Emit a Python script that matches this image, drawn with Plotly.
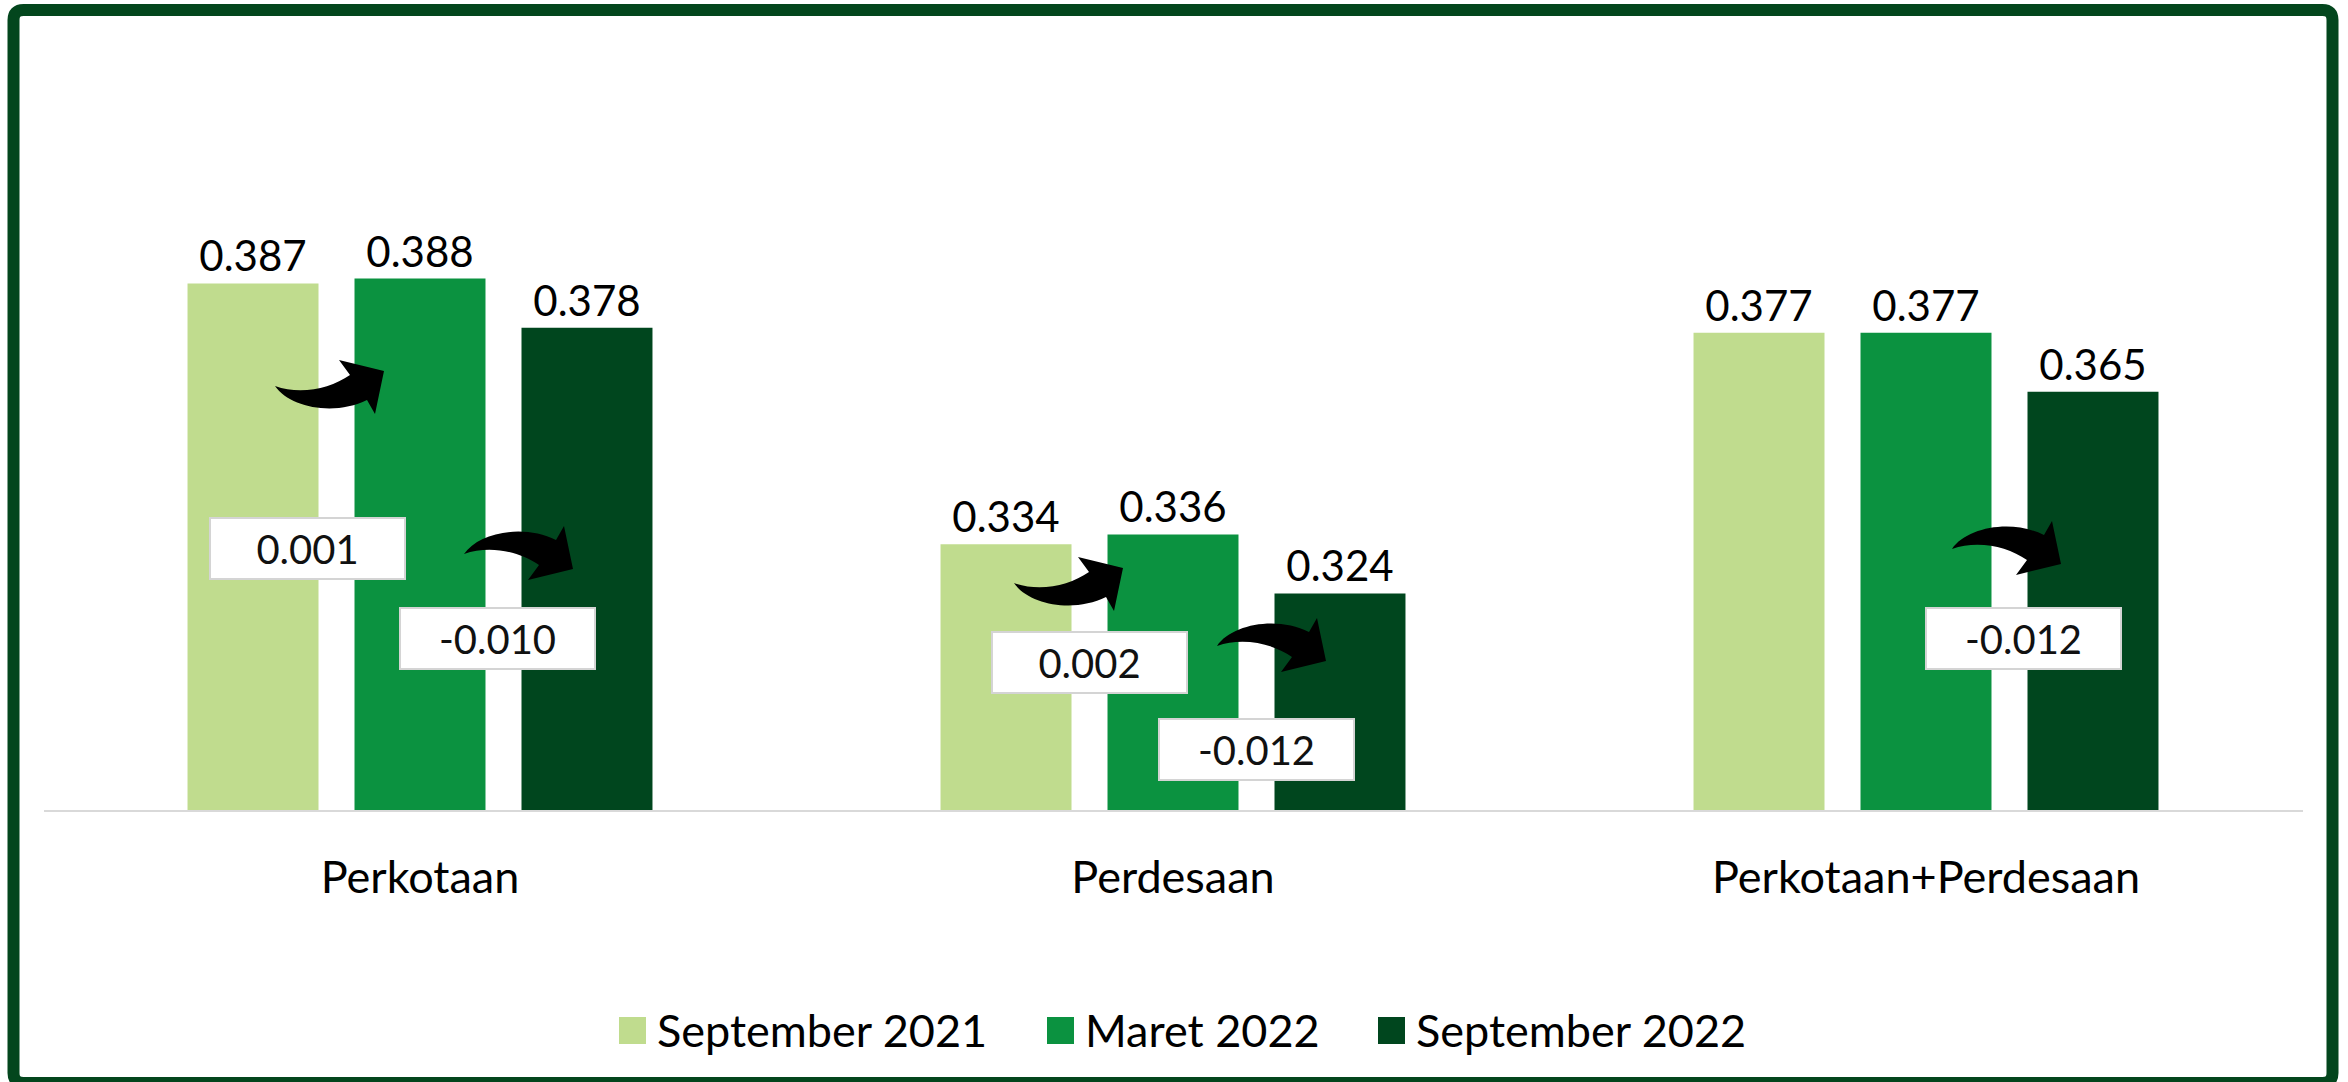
import plotly.graph_objects as go

# ---- data ----
categories = ["Perkotaan", "Perdesaan", "Perkotaan+Perdesaan"]
series_names = ["September 2021", "Maret 2022", "September 2022"]
sep_2021 = [0.387, 0.334, 0.377]
mar_2022 = [0.388, 0.336, 0.377]
sep_2022 = [0.378, 0.324, 0.365]
series_values = [sep_2021, mar_2022, sep_2022]
series_colors = ["#C0DC8E", "#0B9240", "#00461E"]

FONT = "Lato, Carlito, Calibri, sans-serif"
W, H = 2348, 1082
Y_MIN, Y_MAX = 0.28, 0.41


def fx(px):
    return px / W


def fy(py):
    return 1 - py / H


fig = go.Figure()
for name, vals, col in zip(series_names, series_values, series_colors):
    fig.add_trace(go.Bar(
        x=categories, y=vals, name=name, marker=dict(color=col, line=dict(width=0)),
        texttemplate="%{y:.3f}", textposition="outside", cliponaxis=False,
        constraintext="none",
        textfont=dict(family=FONT, size=42, color="#000000"),
        showlegend=False, hoverinfo="skip",
    ))

shapes = []
annotations = []

# curved block arrow outline (tail at origin, screen y pointing down), pixels
ARROW_DOWN = [("M", (0, 0)), ("C", (15, -22), (60, -30), (92, -14)),
              ("L", (100, -28)), ("L", (109, 15)), ("L", (64, 26)),
              ("L", (75, 11)), ("C", (55, -3), (25, -9), (0, 0))]


def arrow_path(dx, h, up):
    parts = []
    for seg in ARROW_DOWN:
        cmd, pts = seg[0], seg[1:]
        coords = []
        for (px, py) in pts:
            sy = py if not up else -py
            coords.append(f"{dx + px:.1f},{h - sy:.1f}")
        parts.append(cmd + " ".join(coords))
    return " ".join(parts) + " Z"


# placement of change markers: (category index, from series, to series,
# arrow tail offset, label box offset) in pixels from category centre / baseline
change_marks = [
    (0, 0, 1, (-145, 424), (-113, 262)),
    (0, 1, 2, (44, 256), (77, 172)),
    (1, 0, 1, (-159, 227), (-84, 148)),
    (1, 1, 2, (44, 164), (83, 61)),
    (2, 1, 2, (26, 261), (97, 172)),
]
for ci, s0, s1, (adx, ah), (bdx, bh) in change_marks:
    delta = round(series_values[s1][ci] - series_values[s0][ci], 3)
    shapes.append(dict(
        type="path", xref="x", yref="y", xsizemode="pixel", ysizemode="pixel",
        xanchor=ci, yanchor=Y_MIN, path=arrow_path(adx, ah, delta > 0),
        fillcolor="#000000", line=dict(width=0), layer="above",
    ))
    annotations.append(dict(
        x=ci, y=Y_MIN, xref="x", yref="y", xshift=bdx, yshift=bh,
        text=f"{delta:.3f}", showarrow=False, xanchor="center", yanchor="middle",
        bgcolor="#FFFFFF", bordercolor="#D4D4D4", borderwidth=2, borderpad=3,
        width=187, height=53, align="center",
        font=dict(family=FONT, size=40, color="#111111"),
    ))

# legend drawn as swatches + labels
legend_swatch_x = [619, 1047, 1378]
for name, col, sx in zip(series_names, series_colors, legend_swatch_x):
    shapes.append(dict(type="rect", xref="paper", yref="paper",
                       x0=fx(sx), x1=fx(sx + 27), y0=fy(1044), y1=fy(1017),
                       fillcolor=col, line=dict(width=0)))
    annotations.append(dict(x=fx(sx + 36), y=fy(1030), xref="paper", yref="paper",
                            text=name, showarrow=False, xanchor="left", yanchor="middle",
                            font=dict(family=FONT, size=45, color="#000000")))

# outer rounded frame
r = 10
L_, R_, T_, B_ = 13.5, 2332.5, 10, 1083
frame = (f"M{fx(L_ + r)},{fy(T_)} L{fx(R_ - r)},{fy(T_)} Q{fx(R_)},{fy(T_)} {fx(R_)},{fy(T_ + r)} "
         f"L{fx(R_)},{fy(B_ - r)} Q{fx(R_)},{fy(B_)} {fx(R_ - r)},{fy(B_)} "
         f"L{fx(L_ + r)},{fy(B_)} Q{fx(L_)},{fy(B_)} {fx(L_)},{fy(B_ - r)} "
         f"L{fx(L_)},{fy(T_ + r)} Q{fx(L_)},{fy(T_)} {fx(L_ + r)},{fy(T_)} Z")
shapes.append(dict(type="path", xref="paper", yref="paper", path=frame,
                   line=dict(color="#03461D", width=12), fillcolor="rgba(0,0,0,0)"))

baseline_px = 810
px_per_unit = 4921
top_px = baseline_px - (Y_MAX - Y_MIN) * px_per_unit

fig.update_layout(
    width=W, height=H, margin=dict(l=0, r=0, t=0, b=0),
    paper_bgcolor="#FFFFFF", plot_bgcolor="#FFFFFF",
    barmode="group", bargap=0.3347, bargroupgap=0.2156,
    font=dict(family=FONT, color="#000000"),
    xaxis=dict(domain=[fx(43.5), fx(2302.5)], range=[-0.5, 2.5], showgrid=False,
               showline=True, linecolor="#D9D9D9", linewidth=2, ticks="",
               tickfont=dict(family=FONT, size=45, color="#000000"),
               ticklabelstandoff=27, zeroline=False, fixedrange=True),
    yaxis=dict(domain=[fy(baseline_px), fy(top_px)], range=[Y_MIN, Y_MAX],
               visible=False, showgrid=False, zeroline=False, fixedrange=True),
    shapes=shapes, annotations=annotations, showlegend=False,
)

fig.write_html("out.html", config={"displayModeBar": False})
